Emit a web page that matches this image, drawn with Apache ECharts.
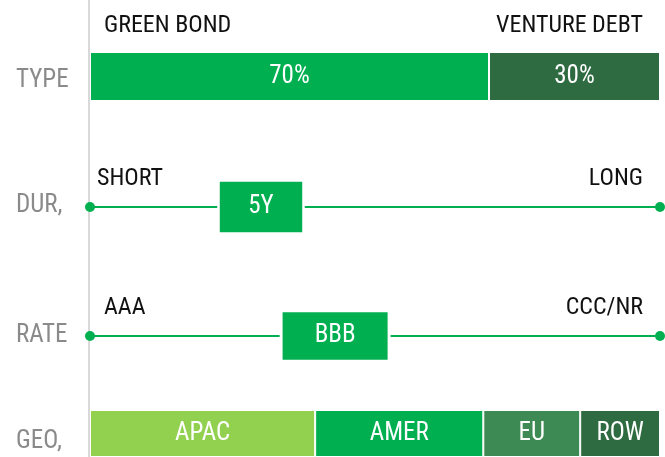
<!DOCTYPE html>
<html>
<head>
<meta charset="utf-8">
<script src="https://cdn.jsdelivr.net/npm/echarts@6/dist/echarts.min.js"></script>
<style>
  html, body { margin: 0; padding: 0; background: #fff; }
  #main { width: 665px; height: 457px; }
</style>
</head>
<body>
<div id="main"></div>
<script>
var chartDom = document.getElementById('main');
var myChart = echarts.init(chartDom);
var option;

// row labels down the left
const rows = ['TYPE', 'DUR,', 'RATE', 'GEO,'];

// type split
const typeNames = ['GREEN BOND', 'VENTURE DEBT'];
const typeShares = [70, 30];

// duration scale
const durEnds = ['SHORT', 'LONG'];
const durValue = 30;
const durLabel = '5Y';

// rating scale
const rateEnds = ['AAA', 'CCC/NR'];
const rateValue = 43;
const rateLabel = 'BBB';

// geography split
const geoNames = ['APAC', 'AMER', 'EU', 'ROW'];
const geoShares = [39.5, 29.5, 17, 14];

const FONT = '"Roboto Condensed", "Liberation Sans Narrow", sans-serif';
const GREEN = '#00af50';
const typeColors = [GREEN, '#2e6b40'];
const geoColors = ['#92d050', GREEN, '#3e8a55', '#2e6b40'];

const grids = [
  { left: 90, right: 5, top: 52, height: 49 },
  { left: 90, right: 5, top: 207, height: 0 },
  { left: 90, right: 5, top: 336, height: 0 },
  { left: 90, right: 5, top: 410, height: 49 },
  // full height grid just for the grey divider
  { left: 89, width: 1, top: 0, bottom: 0 }
];

function headerAxis(gridIndex, ends, pad, margin) {
  return {
    type: 'value', gridIndex: gridIndex, position: 'top',
    min: 0, max: 100, interval: 100,
    axisLine: { show: false }, axisTick: { show: false }, splitLine: { show: false },
    axisLabel: {
      show: ends != null,
      margin: margin,
      padding: pad,
      alignMinLabel: 'left',
      alignMaxLabel: 'right',
      color: '#111',
      fontFamily: FONT,
      fontSize: 24,
      formatter: function (v) { return ends ? (v === 0 ? ends[0] : ends[1]) : ''; }
    }
  };
}

// valign + lineHeight nudge the label a few px off the band centre
function rowAxis(gridIndex, valign, lh) {
  return {
    type: 'category', gridIndex: gridIndex, data: [rows[gridIndex]],
    axisLine: { show: false }, axisTick: { show: false },
    axisLabel: {
      align: 'left', margin: 74, color: '#8a8a8a',
      fontFamily: FONT, fontSize: 25,
      verticalAlign: valign, lineHeight: lh
    }
  };
}

function barLabel(name) {
  return {
    show: true, position: 'inside', color: '#fff',
    fontFamily: FONT, fontSize: 25,
    formatter: function () { return name; }
  };
}

const series = [];

typeShares.forEach(function (v, i) {
  series.push({
    type: 'bar', xAxisIndex: 0, yAxisIndex: 0, stack: 'type',
    barWidth: '100%', data: [v],
    itemStyle: { color: typeColors[i], borderColor: '#fff', borderWidth: 1 },
    label: barLabel(v + '%')
  });
});

geoShares.forEach(function (v, i) {
  series.push({
    type: 'bar', xAxisIndex: 3, yAxisIndex: 3, stack: 'geo',
    barWidth: '100%', data: [v],
    itemStyle: { color: geoColors[i], borderColor: '#fff', borderWidth: 1 },
    label: barLabel(geoNames[i])
  });
});

function scaleRow(idx, value, label, boxSize) {
  series.push({
    type: 'line', xAxisIndex: idx, yAxisIndex: idx,
    data: [[0, 0], [100, 0]],
    symbol: 'circle', symbolSize: 10,
    itemStyle: { color: GREEN },
    lineStyle: { color: GREEN, width: 2 },
    silent: true, z: 2
  });
  series.push({
    type: 'scatter', xAxisIndex: idx, yAxisIndex: idx,
    data: [[value, 0]],
    symbol: 'rect', symbolSize: boxSize,
    itemStyle: { color: GREEN, borderColor: '#fff', borderWidth: 2, opacity: 1 },
    label: barLabel(label),
    z: 3
  });
}

scaleRow(1, durValue, durLabel, [85, 52]);
scaleRow(2, rateValue, rateLabel, [108, 49]);

option = {
  animation: false,
  backgroundColor: '#fff',
  grid: grids,
  xAxis: [
    headerAxis(0, typeNames, [0, 17, 0, 14], 14),
    headerAxis(1, durEnds, [0, 17, 0, 7], 16),
    headerAxis(2, rateEnds, [0, 17, 0, 14], 16),
    headerAxis(3, null, 0, 0),
    { type: 'value', gridIndex: 4, show: false }
  ],
  yAxis: [
    rowAxis(0, 'top', 9),
    rowAxis(1, 'bottom', 2),
    rowAxis(2, 'middle', 26),
    rowAxis(3, 'top', 17),
    {
      type: 'value', gridIndex: 4,
      axisLine: { show: true, lineStyle: { color: '#d9d9d9', width: 2 } },
      axisTick: { show: false }, axisLabel: { show: false }, splitLine: { show: false }
    }
  ],
  series: series
};

option && myChart.setOption(option);
</script>
</body>
</html>
